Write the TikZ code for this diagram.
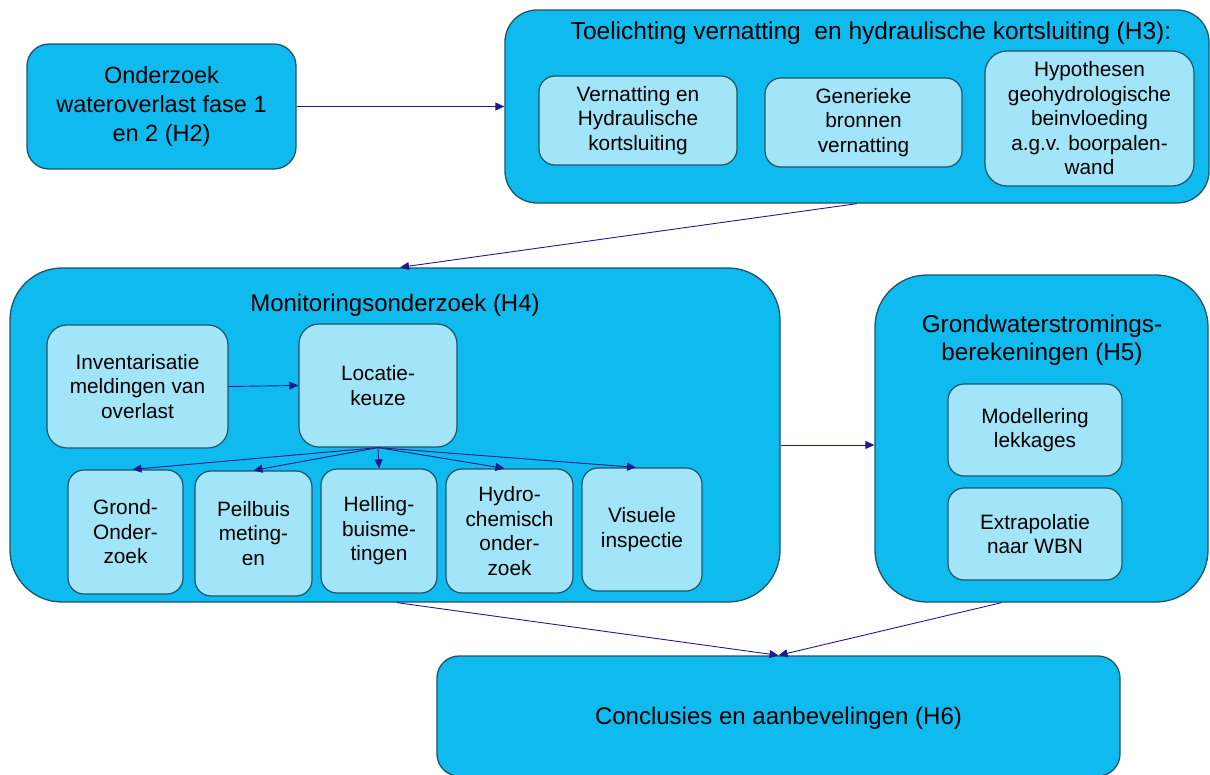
\documentclass[tikz,border=0pt]{standalone}
\usepackage{fontspec}
\setmainfont{Liberation Sans}
\usetikzlibrary{arrows.meta}
\definecolor{mainfill}{HTML}{0FBBEE}
\definecolor{innerfill}{HTML}{A2E4F8}
\definecolor{edge}{HTML}{1D5468}
\definecolor{arrowc}{HTML}{1C1C8E}
\tikzset{
  bigbox/.style={draw=edge, line width=1.3pt, fill=mainfill, rectangle, inner sep=0pt, align=center,
    font=\fontsize{23.5}{29}\selectfont},
  innerbox/.style={draw=edge, line width=1.2pt, fill=innerfill, rectangle, inner sep=0pt, align=center,
    rounded corners=16pt, font=\fontsize{20.8}{24.5}\selectfont},
  title/.style={inner sep=0pt, align=center},
  conn/.style={draw=arrowc, line width=0.9pt, -{Triangle[length=9pt,width=8pt]}},
}
\begin{document}
\begin{tikzpicture}[x=1pt,y=-1pt]
\useasboundingbox (0,0) rectangle (1210,774);
% main boxes
\node[bigbox, rounded corners=22pt, minimum width=269pt, minimum height=125pt] (h2) at (161.5,106.5)
  {Onderzoek\\wateroverlast fase 1\\en 2 (H2)};
\node[bigbox, rounded corners=32pt, minimum width=704pt, minimum height=193pt] (h3) at (857,106.5) {};
\node[title, font=\fontsize{24.5}{28}\selectfont] (h3t) at (871,33) {Toelichting vernatting\ \ en hydraulische kortsluiting (H3):};
\node[innerbox, minimum width=198pt, minimum height=89pt] (a1) at (638,120.5) {Vernatting en\\Hydraulische\\kortsluiting};
\node[innerbox, minimum width=197pt, minimum height=89pt] (a2) at (863.5,122.5) {Generieke\\bronnen\\vernatting};
\node[innerbox, rounded corners=22pt, minimum width=209pt, minimum height=135pt] (a3) at (1089.5,118.5) {Hypothesen\\geohydrologische\\beinvloeding\\a.g.v. boorpalen-\\wand};

\node[bigbox, rounded corners=52pt, minimum width=770pt, minimum height=334pt] (h4) at (395,435) {};
\node[title, font=\fontsize{24}{28}\selectfont] (h4t) at (395,305) {Monitoringsonderzoek (H4)};
\node[innerbox, rounded corners=20pt, minimum width=181pt, minimum height=123pt] (inv) at (137.5,386.5) {Inventarisatie\\meldingen van\\overlast};
\node[innerbox, rounded corners=20pt, minimum width=158pt, minimum height=123pt] (loc) at (378,385.5) {Locatie-\\keuze};
\node[innerbox, minimum width=115pt, minimum height=124pt] (g1) at (125.5,532) {Grond-\\Onder-\\zoek};
\node[innerbox, minimum width=117pt, minimum height=125pt] (g2) at (253.5,533.5) {Peilbuis\\meting-\\en};
\node[innerbox, minimum width=116pt, minimum height=124pt] (g3) at (379,531) {Helling-\\buisme-\\tingen};
\node[innerbox, minimum width=127pt, minimum height=124pt] (g4) at (509.5,531) {Hydro-\\chemisch\\onder-\\zoek};
\node[innerbox, minimum width=120pt, minimum height=123pt] (g5) at (642,529.5) {Visuele\\inspectie};

\node[bigbox, rounded corners=52pt, minimum width=333pt, minimum height=327pt] (h5) at (1041.5,438.5) {};
\node[title, font=\fontsize{24.3}{27.5}\selectfont] (h5t) at (1042,340) {Grondwaterstromings-\\berekeningen (H5)};
\node[innerbox, minimum width=174pt, minimum height=92pt] (m1) at (1035,430) {Modellering\\lekkages};
\node[innerbox, minimum width=174pt, minimum height=92pt] (m2) at (1035,534) {Extrapolatie\\naar WBN};

\node[bigbox, rounded corners=22pt, minimum width=683pt, minimum height=120pt] (h6) at (778.5,716) {};
\node[title, font=\fontsize{24}{27}\selectfont] (h6t) at (778.5,718) {Conclusies en aanbevelingen (H6)};

% connectors
\draw[conn] (h2.east) -- (h3.west);
\draw[conn] (h3.south) -- ([xshift=5pt]h4.north);
\draw[conn] (inv.east) -- (loc.west);
\draw[conn] (loc.south) -- ([xshift=7pt]g1.north);
\draw[conn] (loc.south) -- (g2.north);
\draw[conn] (loc.south) -- (g3.north);
\draw[conn] (loc.south) -- ([xshift=-5pt]g4.north);
\draw[conn] (loc.south) -- ([xshift=-6pt]g5.north);
\draw[conn] ([yshift=-10pt]h4.east) -- ([yshift=-6.5pt]h5.west);
\draw[conn] ([xshift=2pt]h4.south) -- (h6.north);
\draw[conn] ([xshift=-40pt]h5.south) -- (h6.north);
\end{tikzpicture}
\end{document}
